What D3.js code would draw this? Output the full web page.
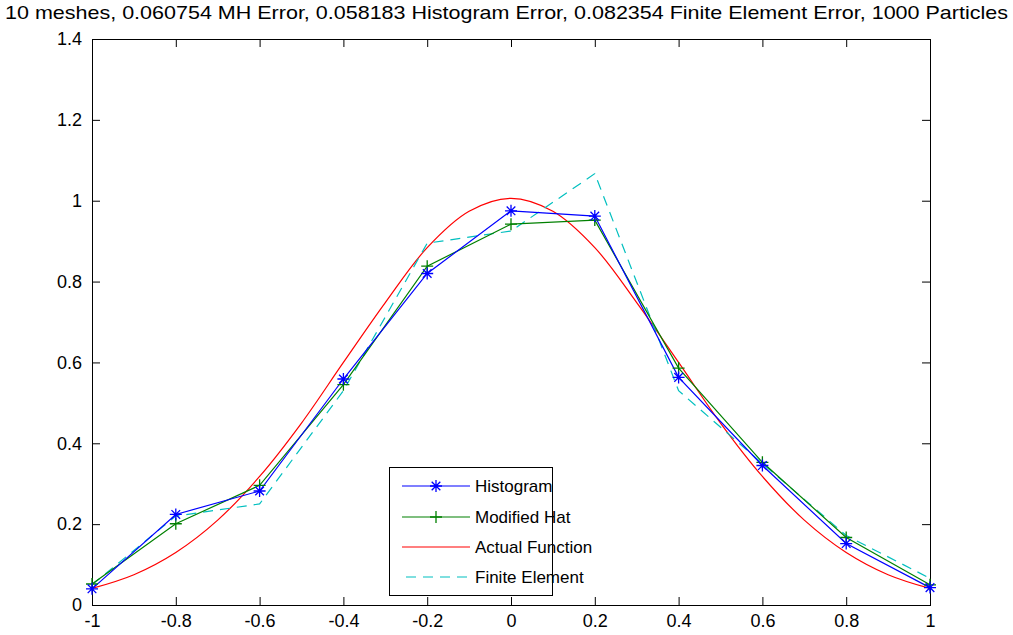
<!DOCTYPE html>
<html>
<head>
<meta charset="utf-8">
<script src="https://cdn.jsdelivr.net/npm/d3@7"></script>
<style>
  html, body { margin: 0; padding: 0; background: #fff; }
  svg { display: block; font-family: "Liberation Sans", Arial, sans-serif; }
</style>
</head>
<body>
<svg id="chart" width="1013" height="635"></svg>
<script>
// Mesh nodes and the estimates at each node
const meshX = [-1, -0.8, -0.6, -0.4, -0.2, 0, 0.2, 0.4, 0.6, 0.8, 1];
const histogram = [0.040, 0.224, 0.282, 0.559, 0.820, 0.975, 0.962, 0.563, 0.345, 0.152, 0.043];
const modifiedHat = [0.052, 0.201, 0.296, 0.545, 0.838, 0.942, 0.952, 0.586, 0.353, 0.167, 0.050];
const finiteElement = [0.050, 0.220, 0.250, 0.530, 0.895, 0.925, 1.067, 0.530, 0.350, 0.172, 0.066];

// Actual function sampled on a finer grid
const fineX = [-1, -0.9, -0.8, -0.7, -0.6, -0.5, -0.4, -0.3, -0.2, -0.1, 0,
               0.1, 0.2, 0.3, 0.4, 0.5, 0.6, 0.7, 0.8, 0.9, 1];
const actual = [0.041, 0.075, 0.130, 0.210, 0.318, 0.450, 0.600, 0.748, 0.884, 0.974, 1.006,
                0.974, 0.884, 0.748, 0.600, 0.450, 0.318, 0.210, 0.130, 0.075, 0.041];

const xTicks = [-1, -0.8, -0.6, -0.4, -0.2, 0, 0.2, 0.4, 0.6, 0.8, 1];
const yTicks = [0, 0.2, 0.4, 0.6, 0.8, 1, 1.2, 1.4];

const titleText = "10 meshes, 0.060754 MH Error, 0.058183 Histogram Error, 0.082354 Finite Element Error, 1000 Particles";
const legendNames = ["Histogram", "Modified Hat", "Actual Function", "Finite Element"];

const svg = d3.select("#chart");
const plot = { left: 92, right: 930, top: 39, bottom: 605 };

const x = d3.scaleLinear().domain([-1, 1]).range([plot.left, plot.right]);
const y = d3.scaleLinear().domain([0, 1.4]).range([plot.bottom, plot.top]);

// Plain hyphen for negative tick labels
const fmt = d => String(+d.toFixed(1));

// Title
svg.append("text")
  .attr("x", 5).attr("y", 19)
  .attr("font-size", 19)
  .attr("textLength", 1003)
  .attr("lengthAdjust", "spacingAndGlyphs")
  .attr("fill", "#000")
  .text(titleText);

// Axes box with inward ticks on all four sides
const tickLen = 8;

const bottomAxis = d3.axisBottom(x).tickValues(xTicks).tickSize(-tickLen).tickPadding(10).tickFormat(fmt);
const topAxis = d3.axisTop(x).tickValues(xTicks).tickSize(-tickLen).tickFormat("");
const leftAxis = d3.axisLeft(y).tickValues(yTicks).tickSize(-tickLen).tickPadding(10).tickFormat(fmt);
const rightAxis = d3.axisRight(y).tickValues(yTicks).tickSize(-tickLen).tickFormat("");

function styleAxis(g) {
  g.select(".domain").remove();
  g.selectAll(".tick line").attr("stroke", "#000");
  g.selectAll(".tick text")
    .attr("fill", "#000")
    .attr("font-size", 18)
    .attr("font-family", "'Liberation Sans', Arial, sans-serif");
}

svg.append("g").attr("transform", `translate(0,${plot.bottom})`).call(bottomAxis).call(styleAxis)
  .selectAll(".tick text").attr("dy", "0.72em").attr("y", 9);
svg.append("g").attr("transform", `translate(0,${plot.top})`).call(topAxis).call(styleAxis);
svg.append("g").attr("transform", `translate(${plot.left},0)`).call(leftAxis).call(styleAxis);
svg.append("g").attr("transform", `translate(${plot.right},0)`).call(rightAxis).call(styleAxis);

svg.append("rect")
  .attr("x", plot.left + 0.5).attr("y", plot.top + 0.5)
  .attr("width", plot.right - plot.left).attr("height", plot.bottom - plot.top)
  .attr("fill", "none").attr("stroke", "#000").attr("stroke-width", 1);

// Series
const colors = { hist: "#0000ff", hat: "#008000", actual: "#ff0000", fe: "#00bfbf" };
const line = d3.line().x(d => x(d[0])).y(d => y(d[1]));
const smooth = d3.line().x(d => x(d[0])).y(d => y(d[1])).curve(d3.curveCatmullRom.alpha(0.5));

const series = svg.append("g");

series.append("path")
  .datum(d3.zip(fineX, actual))
  .attr("d", smooth).attr("fill", "none")
  .attr("stroke", colors.actual).attr("stroke-width", 1.2);

series.append("path")
  .datum(d3.zip(meshX, finiteElement))
  .attr("d", line).attr("fill", "none")
  .attr("stroke", colors.fe).attr("stroke-width", 1.2)
  .attr("stroke-dasharray", "10,7");

series.append("path")
  .datum(d3.zip(meshX, modifiedHat))
  .attr("d", line).attr("fill", "none")
  .attr("stroke", colors.hat).attr("stroke-width", 1.2);

series.append("path")
  .datum(d3.zip(meshX, histogram))
  .attr("d", line).attr("fill", "none")
  .attr("stroke", colors.hist).attr("stroke-width", 1.2);

// Marker shapes
function plusMarker(g, cx, cy, r, color) {
  g.append("path")
    .attr("d", `M${cx - r},${cy}H${cx + r}M${cx},${cy - r}V${cy + r}`)
    .attr("stroke", color).attr("stroke-width", 1.3).attr("fill", "none");
}
function starMarker(g, cx, cy, r, color) {
  const k = r * 0.72;
  g.append("path")
    .attr("d", `M${cx - r},${cy}H${cx + r}M${cx},${cy - r}V${cy + r}` +
               `M${cx - k},${cy - k}L${cx + k},${cy + k}M${cx - k},${cy + k}L${cx + k},${cy - k}`)
    .attr("stroke", color).attr("stroke-width", 1.3).attr("fill", "none");
}

const markers = svg.append("g");
meshX.forEach((v, i) => plusMarker(markers, x(v), y(modifiedHat[i]), 6, colors.hat));
meshX.forEach((v, i) => starMarker(markers, x(v), y(histogram[i]), 6, colors.hist));

// Legend
const legend = svg.append("g");
const lg = { x: 389.5, y: 467.5, w: 163, h: 128 };
legend.append("rect")
  .attr("x", lg.x).attr("y", lg.y).attr("width", lg.w).attr("height", lg.h)
  .attr("fill", "#fff").attr("stroke", "#000").attr("stroke-width", 1);

const rowY = [486, 517, 547, 577];
const legendStyles = [
  { color: colors.hist, dash: null, marker: starMarker },
  { color: colors.hat, dash: null, marker: plusMarker },
  { color: colors.actual, dash: null, marker: null },
  { color: colors.fe, dash: "10,7", marker: null }
];
legendNames.forEach((name, i) => {
  const s = legendStyles[i];
  const ly = rowY[i];
  const ln = legend.append("line")
    .attr("x1", 402).attr("x2", 470).attr("y1", ly).attr("y2", ly)
    .attr("stroke", s.color).attr("stroke-width", 1.2);
  if (s.dash) ln.attr("stroke-dasharray", s.dash).attr("x1", 406);
  if (s.marker) s.marker(legend, 436, ly, 6, s.color);
  legend.append("text")
    .attr("x", 475).attr("y", ly + 6)
    .attr("font-size", 17).attr("fill", "#000")
    .text(name);
});
</script>
</body>
</html>
